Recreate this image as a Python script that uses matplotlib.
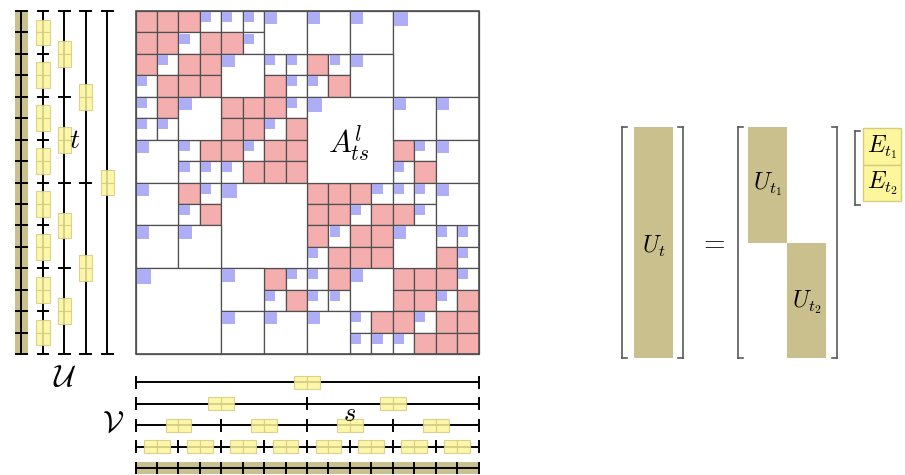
import matplotlib
matplotlib.use("Agg")
import matplotlib.pyplot as plt
from matplotlib.patches import Rectangle

plt.rcParams['mathtext.fontset'] = 'cm'

# block structure of the 16x16 H^2 matrix
# R = dense leaf block, o = low-rank leaf block, 2 / 4 = part of a bigger low-rank block
pattern = [
    "RRRooo2222224444",
    "RRoRRo2222224444",
    "RoRR22ooRo224444",
    "oRRR22RooR224444",
    "oR22RRRo44442222",
    "oo22RRoR44442222",
    "22oRRoRR4444Ro22",
    "22oooRRR4444oR22",
    "22Ro4444RRRooo22",
    "22oR4444RRoRRo22",
    "22224444RoRR22oo",
    "22224444oRRR22Ro",
    "444422RooR22RRRo",
    "444422oRoo22RRoR",
    "4444222222oRRoRR",
    "4444222222oooRRR",
]
# bigger admissible blocks: (row, col, size)
big_blocks = [
    (0, 6, 2), (0, 8, 2), (0, 10, 2), (0, 12, 4),
    (2, 4, 2), (2, 10, 2), (4, 2, 2), (4, 8, 4), (4, 12, 2), (4, 14, 2),
    (6, 0, 2), (6, 14, 2), (8, 0, 2), (8, 4, 4), (8, 14, 2),
    (10, 0, 2), (10, 2, 2), (10, 12, 2), (12, 0, 4), (12, 4, 2), (12, 10, 2),
    (14, 4, 2), (14, 6, 2), (14, 8, 2),
]
# size of the blue "rank" marker for each block size
marker_size = {1: 0.47, 2: 0.57, 4: 0.67}
n_leaf = 16
n_levels = 5

OLIVE = "#c9c08e"
PINK = "#f5aeae"
BLUE = "#aeaef6"
YELLOW = "#fdf69c"
YEDGE = "#d6cb7e"
GRID = "#505050"
BRACKET = "#5a5a5a"

fig = plt.figure(figsize=(9.05, 4.75), dpi=100)

# ---- left part: matrix and cluster trees, one unit = one leaf cluster
ax = fig.add_axes([0, 0, 500 / 905, 1])
ax.set_xlim(-6.32, 17.0)
ax.set_ylim(21.64, -0.513)
ax.axis("off")


def low_rank(r, c, n):
    ax.add_patch(Rectangle((c, r), n, n, facecolor="white", edgecolor=GRID, lw=0.9))
    m = marker_size[n]
    ax.add_patch(Rectangle((c + 0.05, r + 0.05), m, m, facecolor=BLUE, edgecolor="none"))


for i, row in enumerate(pattern):
    for j, ch in enumerate(row):
        if ch == "R":
            ax.add_patch(Rectangle((j, i), 1, 1, facecolor=PINK, edgecolor=GRID, lw=0.9))
        elif ch == "o":
            low_rank(i, j, 1)
for r, c, n in big_blocks:
    low_rank(r, c, n)
ax.add_patch(Rectangle((0, 0), n_leaf, n_leaf, facecolor="none", edgecolor=GRID, lw=1.2))

ax.text(9.95, 6.2, r"$A^l_{ts}$", fontsize=22, ha="center", va="center")

# cluster trees: level 0 (root) is closest to the matrix
tick = 0.25
box_w, box_l = 0.62, 1.2
for lev in range(n_levels):
    n_cl = 2 ** lev
    size = n_leaf / n_cl
    xl = -1.32 - lev        # left tree (row basis U)
    yb = n_leaf + 1.32 + lev  # bottom tree (column basis V)
    if lev == n_levels - 1:
        ax.add_patch(Rectangle((xl - 0.3, 0), 0.6, n_leaf, facecolor=OLIVE, edgecolor="none"))
        ax.add_patch(Rectangle((0, yb - 0.27), n_leaf, 0.54, facecolor=OLIVE, edgecolor="none"))
    ax.plot([xl, xl], [0, n_leaf], color="black", lw=1.4)
    ax.plot([0, n_leaf], [yb, yb], color="black", lw=1.4)
    for k in range(n_cl + 1):
        p = k * size
        ax.plot([xl - tick, xl + tick], [p, p], color="black", lw=1.4)
        ax.plot([p, p], [yb - tick, yb + tick], color="black", lw=1.4)
    if lev == n_levels - 1:
        continue
    for k in range(n_cl):
        cpos = (k + 0.5) * size
        for h in (0, 1):
            ax.add_patch(Rectangle((xl - box_w / 2, cpos - box_l / 2 + h * box_l / 2),
                                   box_w, box_l / 2, facecolor=YELLOW, edgecolor=YEDGE,
                                   lw=0.8, alpha=0.85, zorder=3))
            ax.add_patch(Rectangle((cpos - box_l / 2 + h * box_l / 2, yb - box_w / 2),
                                   box_l / 2, box_w, facecolor=YELLOW, edgecolor=YEDGE,
                                   lw=0.8, alpha=0.85, zorder=3))

ax.text(-2.82, 6.0, r"$t$", fontsize=20, ha="center", va="center")
ax.text(10.0, 18.8, r"$s$", fontsize=19, ha="center", va="center")
ax.text(-3.3, 17.1, r"$\mathcal{U}$", fontsize=22, ha="center", va="center")
ax.text(-1.05, 19.25, r"$\mathcal{V}$", fontsize=22, ha="center", va="center")

# ---- right part: nested basis U_t = diag(U_t1, U_t2) E_t (pixel layout)
ax2 = fig.add_axes([0, 0, 1, 1])
ax2.set_xlim(0, 905)
ax2.set_ylim(475, 0)
ax2.axis("off")
ax2.patch.set_alpha(0)

top, bot = 127, 358
mid = (top + bot) / 2
bw = 39


def bracket(x, y0, y1, side):
    ax2.plot([x, x], [y0, y1], color=BRACKET, lw=1.2)
    ax2.plot([x, x + 5 * side], [y0, y0], color=BRACKET, lw=1.2)
    ax2.plot([x, x + 5 * side], [y1, y1], color=BRACKET, lw=1.2)


bracket(622, top, bot, 1)
bracket(683, top, bot, -1)
ax2.add_patch(Rectangle((634, top), bw, bot - top, facecolor=OLIVE, edgecolor="none"))
ax2.text(634 + bw / 2, mid + 4, r"$U_t$", fontsize=17, ha="center", va="center")

ax2.text(712, mid, r"$=$", fontsize=20, ha="center", va="center")

bracket(738, top, bot, 1)
bracket(837, top, bot, -1)
ax2.add_patch(Rectangle((748, top), bw, mid - top, facecolor=OLIVE, edgecolor="none"))
ax2.add_patch(Rectangle((748 + bw, mid), bw, bot - mid, facecolor=OLIVE, edgecolor="none"))
ax2.text(748 + bw / 2, (top + mid) / 2 - 1, r"$U_{t_1}$", fontsize=17, ha="center", va="center")
ax2.text(748 + 1.5 * bw, (mid + bot) / 2 + 2, r"$U_{t_2}$", fontsize=17, ha="center", va="center")

e_top, e_mid, e_bot = 128, 165, 201
bracket(855, 131, 205, 1)
ax2.add_patch(Rectangle((863, e_top), 38, e_mid - e_top, facecolor=YELLOW, edgecolor=YEDGE, lw=1))
ax2.add_patch(Rectangle((863, e_mid), 38, e_bot - e_mid, facecolor=YELLOW, edgecolor=YEDGE, lw=1))
ax2.text(882, (e_top + e_mid) / 2 + 1, r"$E_{t_1}$", fontsize=17, ha="center", va="center")
ax2.text(882, (e_mid + e_bot) / 2, r"$E_{t_2}$", fontsize=17, ha="center", va="center")

fig.savefig("out.png", dpi=100)
